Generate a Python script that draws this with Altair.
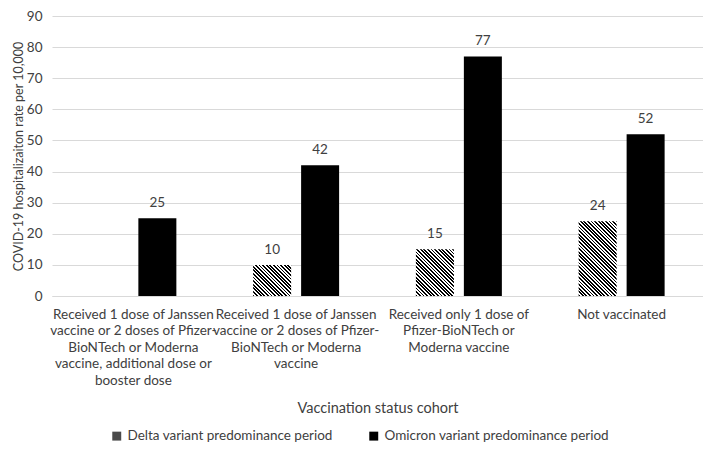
import math
import altair as alt
import pandas as pd

# ---- data -------------------------------------------------------------
categories = [
    "Received 1 dose of Janssen\nvaccine or 2 doses of Pfizer-\nBioNTech or Moderna\nvaccine, additional dose or\nbooster dose",
    "Received 1 dose of Janssen\nvaccine or 2 doses of Pfizer-\nBioNTech or Moderna\nvaccine",
    "Received only 1 dose of\nPfizer-BioNTech or\nModerna vaccine",
    "Not vaccinated",
]
periods = ["Delta variant predominance period", "Omicron variant predominance period"]
delta_values = [None, 10, 15, 24]
omicron_values = [25, 42, 77, 52]

rows = []
for c, d, o in zip(categories, delta_values, omicron_values):
    if d is not None:
        rows.append({"cohort": c, "period": periods[0], "rate": d})
    rows.append({"cohort": c, "period": periods[1], "rate": o})
df = pd.DataFrame(rows)

# ---- layout / style ---------------------------------------------------
LEFT = 44
PLOT_W, PLOT_H = 651, 280
TOP = 8
Y_MAX = 90
BAR_W = 38.0
STRIPE = 3.6  # horizontal period of hatching in px
FONT = "Lato"
TXT = "#404040"
GRID = "#d9d9d9"


def hatch(value):
    """Diagonal '\\' hatching as a bbox-relative linear gradient."""
    W = BAR_W
    H = value * PLOT_H / Y_MAX
    k = (W + H) / (W * W + H * H)
    n = (W + H) / STRIPE
    stops = []
    i = 0
    while True:
        a = i * 0.5 / n
        if a >= 1:
            break
        b = min((i + 1) * 0.5 / n, 1.0)
        col = "#000000" if i % 2 == 0 else "#ffffff"
        stops.append({"offset": a, "color": col})
        stops.append({"offset": b, "color": col})
        i += 1
    return {
        "gradient": "linear",
        "x1": 0, "y1": 1,
        "x2": k * W, "y2": 1 - k * H,
        "stops": stops,
    }


x_enc = alt.X(
    "cohort:N",
    sort=categories,
    scale=alt.Scale(domain=categories, paddingInner=0.4717, paddingOuter=0.2358),
    axis=alt.Axis(
        title="Vaccination status cohort",
        labelAngle=0,
        labelExpr="split(datum.label, '\\n')",
        labelFont=FONT, labelFontSize=13.5, labelColor=TXT,
        labelLineHeight=16.5, labelPadding=11, labelLimit=300,
        ticks=False, domainColor=GRID, domainWidth=1,
        titleFont=FONT, titleFontSize=14.5, titleColor=TXT,
        titleFontWeight="normal", titlePadding=15,
    ),
)
xo_enc = alt.XOffset(
    "period:N",
    scale=alt.Scale(domain=periods, paddingInner=0.208, paddingOuter=0),
)
y_enc = alt.Y(
    "rate:Q",
    scale=alt.Scale(domain=[0, Y_MAX], nice=False),
    axis=alt.Axis(
        title="COVID-19 hospitalizaiton rate per 10,000",
        values=list(range(0, Y_MAX + 1, 10)),
        labelFont=FONT, labelFontSize=13.5, labelColor=TXT, labelPadding=10,
        ticks=False, domain=False, gridColor=GRID, gridWidth=1,
        titleFont=FONT, titleFontSize=12.5, titleColor=TXT,
        titleFontWeight="normal", titlePadding=1,
    ),
)

base = alt.Chart(df)

omicron = base.transform_filter(alt.datum.period == periods[1]).mark_bar(
    size=BAR_W
).encode(
    x=x_enc, xOffset=xo_enc, y=y_enc,
    color=alt.Color(
        "period:N",
        scale=alt.Scale(domain=periods, range=["#4a4a4a", "#000000"]),
        legend=alt.Legend(
            title=None, orient="none", direction="horizontal",
            legendX=110 - 8 - LEFT, legendY=421 - TOP,
            symbolType="square", symbolSize=80, symbolStrokeWidth=0,
            labelFont=FONT, labelFontSize=13.5, labelColor=TXT,
            labelLimit=400, columnPadding=34, labelOffset=4,
        ),
    ),
)

delta_layers = []
for c, d in zip(categories, delta_values):
    if d is None:
        continue
    delta_layers.append(
        base.transform_filter(
            (alt.datum.period == periods[0]) & (alt.datum.cohort == c)
        ).mark_bar(size=BAR_W, fill=hatch(d)).encode(
            x=x_enc, xOffset=xo_enc, y=y_enc
        )
    )

labels = base.mark_text(
    font=FONT, fontSize=13.5, color=TXT, baseline="middle", dy=-15
).encode(x=x_enc, xOffset=xo_enc, y=y_enc, text=alt.Text("rate:Q"))

chart = alt.layer(omicron, *delta_layers, labels).properties(
    width=PLOT_W,
    height=PLOT_H,
    autosize=alt.AutoSizeParams(type="none"),
    padding={"left": LEFT, "top": TOP, "right": 0, "bottom": 155},
).configure_view(stroke=None)

chart.save("out.html", embed_options={"renderer": "svg", "actions": False})
